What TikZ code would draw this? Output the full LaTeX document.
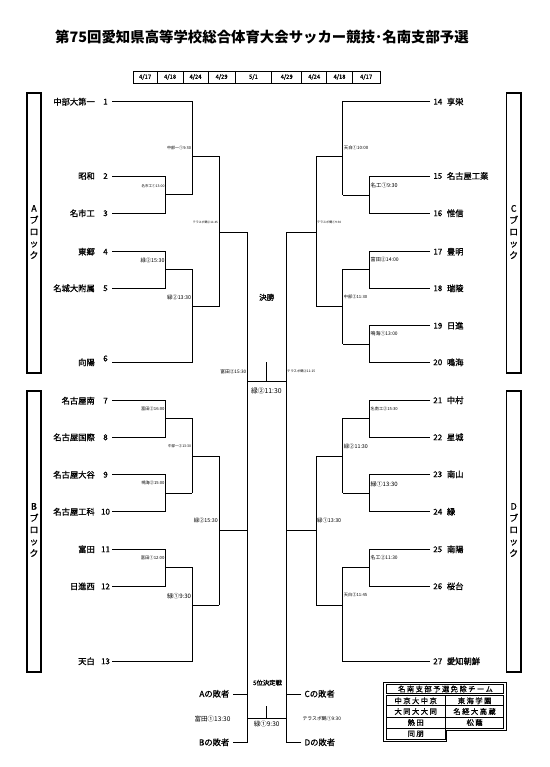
\documentclass[tikz,border=0pt]{standalone}
\usepackage{fontspec}
\setmainfont{Noto Sans CJK JP}
\newfontfamily\cjkspaced[LetterSpace=20,FakeBold=1]{Noto Sans CJK JP}
\newfontfamily\cjkdark[FakeBold=1]{Noto Sans CJK JP}
\usepackage{graphicx}
\newcommand\fitlab[2]{\resizebox{#1pt}{!}{\fontsize{5}{5}\selectfont #2}}
\begin{document}
\begin{tikzpicture}[x=1pt,y=-1pt,
  br/.style={line width=0.9pt},
  tname/.style={inner sep=0pt,font=\cjkdark\fontsize{8.3}{9}\selectfont},
  tnum/.style={inner sep=0pt,font=\cjkdark\fontsize{8}{9}\selectfont},
  labL/.style={inner sep=0pt,anchor=east},
  labR/.style={inner sep=0pt,anchor=west},
  blk/.style={inner sep=0pt,align=center,font=\cjkdark\fontsize{9}{11.7}\selectfont},
  datec/.style={inner sep=0pt,font=\cjkdark\fontsize{5.8}{6}\selectfont},
  cell/.style={inner sep=0pt,font=\cjkspaced\fontsize{7.3}{8}\selectfont}]
\useasboundingbox (0,0) rectangle (549,767);

% title
\node[inner sep=0pt,font=\fontsize{14.4}{15}\selectfont\bfseries] (title) at (262,37.5) {第75回愛知県高等学校総合体育大会サッカー競技･名南支部予選};

% date row
\draw[line width=0.9pt] (133,71) rectangle (380,83);
\foreach \xx in {157.3,183,208,235.3,271.7,301.7,326.7,352.3}
  \draw[line width=0.5pt] (\xx,71) -- (\xx,83);
\node[datec] (d1) at (145.1,77) {4/17};
\node[datec] (d2) at (170.1,77) {4/18};
\node[datec] (d3) at (195.5,77) {4/24};
\node[datec] (d4) at (221.6,77) {4/29};
\node[datec] (d5) at (253.5,77) {5/1};
\node[datec] (d6) at (286.7,77) {4/29};
\node[datec] (d7) at (314.2,77) {4/24};
\node[datec] (d8) at (339.5,77) {4/18};
\node[datec] (d9) at (366.1,77) {4/17};

% block boxes
\draw[line width=1.1pt] (27,93) rectangle (41,373);
\draw[line width=1.1pt] (27,391) rectangle (41,672);
\draw[line width=1.1pt] (506.5,93) rectangle (521,373);
\draw[line width=1.1pt] (506.5,391) rectangle (521,672);
\node[blk] (bA) at (34,232) {A\\ブ\\ロ\\ッ\\ク};
\node[blk] (bB) at (34,530) {B\\ブ\\ロ\\ッ\\ク};
\node[blk] (bC) at (513.7,232) {C\\ブ\\ロ\\ッ\\ク};
\node[blk] (bD) at (513.7,530) {D\\ブ\\ロ\\ッ\\ク};

% left team names
\foreach \nm/\num/\yy in {中部大第一/1/101.7, 昭和/2/176, 名市工/3/213.3, 東郷/4/251.7, 名城大附属/5/288.3,
   向陽/6/362.3, 名古屋南/7/400.7, 名古屋国際/8/437.3, 名古屋大谷/9/474.7, 名古屋工科/10/511.7,
   富田/11/549.3, 日進西/12/586.3, 天白/13/661.3}{
  \node[tname,anchor=east] (n\num) at (95,\yy) {\nm};
  \coordinate (t\num) at (112,\yy);
}
\foreach \num/\yy in {1/101.7,2/176,3/213.3,4/251.7,5/288.3,6/358.5,7/400.7,8/437.3,9/474.7,10/511.7,11/549.3,12/586.3,13/661.3}
  \node[tnum] (k\num) at (105.5,\yy) {\num};

% right team names
\foreach \nm/\num/\yy in {享栄/14/101.7, 名古屋工業/15/176, 惟信/16/213.3, 豊明/17/251.7, 瑞陵/18/288.3,
   日進/19/325.7, 鳴海/20/362.3, 中村/21/400.3, 星城/22/437.3, 南山/23/474.3, 緑/24/511.7,
   南陽/25/549.3, 桜台/26/586.3, 愛知朝鮮/27/661.3}{
  \node[tname,anchor=west] (n\num) at (446.7,\yy) {\nm};
  \node[tnum] (k\num) at (437.8,\yy) {\num};
  \coordinate (t\num) at (430,\yy);
}

% ---------- left bracket A
\draw[br] (t1) -- (192.3,101.7) -- (192.3,194.7);
\draw[br] (t2) -- (165.7,176) -- (165.7,213.3) -- (t3);
\draw[br] (165.7,194.7) -- (192.3,194.7);
\draw[br] (192.3,156.7) -- (219,156.7) -- (219,306.7);
\draw[br] (t4) -- (165.7,251.7) -- (165.7,288.3) -- (t5);
\draw[br] (165.7,269.3) -- (192.3,269.3) -- (192.3,362.3) -- (t6);
\draw[br] (192.3,306.7) -- (219,306.7);
\draw[br] (219,232.7) -- (247.7,232.7);
% ---------- left bracket B
\draw[br] (t7) -- (165.7,400.7) -- (165.7,437.3) -- (t8);
\draw[br] (165.7,418.3) -- (192.3,418.3) -- (192.3,493.3);
\draw[br] (t9) -- (165.7,474.7) -- (165.7,511.7) -- (t10);
\draw[br] (165.7,493.3) -- (192.3,493.3);
\draw[br] (192.3,456.7) -- (219,456.7) -- (219,605);
\draw[br] (t11) -- (165.7,549.3) -- (165.7,586.3) -- (t12);
\draw[br] (165.7,567.3) -- (192.3,567.3) -- (192.3,661.3) -- (t13);
\draw[br] (192.3,605) -- (219,605);
\draw[br] (219,530) -- (247.7,530);
% ---------- right bracket C
\draw[br] (t14) -- (342.7,101.7) -- (342.7,195);
\draw[br] (t15) -- (369.3,176) -- (369.3,213.3) -- (t16);
\draw[br] (369.3,195) -- (342.7,195);
\draw[br] (342.7,156.7) -- (316,156.7) -- (316,306.7);
\draw[br] (t17) -- (369.3,251.7) -- (369.3,288.3) -- (t18);
\draw[br] (369.3,269.3) -- (342.7,269.3) -- (342.7,344.3);
\draw[br] (t19) -- (369.3,325.7) -- (369.3,362.3) -- (t20);
\draw[br] (369.3,344.3) -- (342.7,344.3);
\draw[br] (342.7,306.7) -- (316,306.7);
\draw[br] (316,232.7) -- (286,232.7);
% ---------- right bracket D
\draw[br] (t21) -- (369.3,400.3) -- (369.3,437.3) -- (t22);
\draw[br] (369.3,418.3) -- (342.7,418.3) -- (342.7,493.3);
\draw[br] (t23) -- (369.3,474.3) -- (369.3,511.7) -- (t24);
\draw[br] (369.3,493.3) -- (342.7,493.3);
\draw[br] (342.7,456) -- (316,456) -- (316,605);
\draw[br] (t25) -- (369.3,549.3) -- (369.3,586.3) -- (t26);
\draw[br] (369.3,567.3) -- (342.7,567.3) -- (342.7,661.3) -- (t27);
\draw[br] (342.7,605) -- (316,605);
\draw[br] (316,530.7) -- (286,530.7);

% ---------- centre: final and 5th place
\coordinate (fl) at (247.7,232.7);
\coordinate (fr) at (286,232.7);
\draw[br] (fl) -- (247.7,742.7);
\draw[br] (fr) -- (286,742.7);
\draw[br] (247.7,381.7) -- (286,381.7);
\draw[br] (266.7,362.3) -- (266.7,381.7);
\draw[br] (247.7,718.3) -- (286,718.3);
\draw[br] (266.7,706) -- (266.7,718.3);
\node[inner sep=0pt,font=\cjkdark\fontsize{7.5}{8}\selectfont] (final) at (266.7,297.3) {決勝};
\node[inner sep=0pt,font=\fontsize{6.8}{7}\selectfont] (finaltime) at (266.3,390.7) {緑②11:30};
\node[inner sep=0pt,font=\cjkdark\fontsize{6.3}{7}\selectfont] (fifth) at (267.5,682.7) {5位決定戦};
\node[inner sep=0pt,font=\fontsize{6.5}{7}\selectfont] (fifthtime) at (266.7,724.3) {緑①9:30};
\node[inner sep=0pt,anchor=east,font=\cjkdark\fontsize{8.3}{9}\selectfont] (lA) at (229.5,693.8) {Aの敗者};
\node[inner sep=0pt,anchor=east,font=\cjkdark\fontsize{8.3}{9}\selectfont] (lB) at (229.5,742.3) {Bの敗者};
\node[inner sep=0pt,anchor=west,font=\cjkdark\fontsize{8.3}{9}\selectfont] (lC) at (304.3,693.8) {Cの敗者};
\node[inner sep=0pt,anchor=west,font=\cjkdark\fontsize{8.3}{9}\selectfont] (lD) at (304.3,742.3) {Dの敗者};
\draw[br] (lA.east) ++(3.8,0.5) -- (247.7,694.3);
\draw[br] (lB.east) ++(3.8,0.4) -- (247.7,742.7);
\draw[br] (lC.west) ++(-3,0.5) -- (286,694.3);
\draw[br] (lD.west) ++(-3,0.4) -- (286,742.7);
\node[inner sep=0pt] (p1) at (212.5,719) {\fitlab{36}{富田①13:30}};
\node[inner sep=0pt] (p2) at (321.8,718.5) {\fitlab{38.5}{テラスポ鶴①9:30}};

% ---------- match labels, left
\node[labL] (a1) at (191.3,148.3) {\fitlab{24}{中部一①9:30}};
\node[labL] (a2) at (164.7,185.7) {\fitlab{23}{名市工①13:00}};
\node[labL] (a3) at (218,222.5) {\fitlab{25}{テラスポ鶴②11:45}};
\node[labL] (a4) at (164.7,260) {\fitlab{24}{緑②15:30}};
\node[labL] (a5) at (191.3,297.3) {\fitlab{24}{緑②13:30}};
\node[labL] (s1) at (246.5,371.7) {\fitlab{26}{富田②15:30}};
\node[labL] (b1) at (164.7,409.3) {\fitlab{23.3}{富田②16:00}};
\node[labL] (b2) at (191.3,446) {\fitlab{23}{中部一②13:30}};
\node[labL] (b3) at (164.7,483.3) {\fitlab{23}{鳴海②15:00}};
\node[labL] (b4) at (218,520.7) {\fitlab{24}{緑②15:30}};
\node[labL] (b5) at (164.7,558.3) {\fitlab{23.6}{富田①12:00}};
\node[labL] (b6) at (191.3,595.7) {\fitlab{24}{緑①9:30}};
% ---------- match labels, right
\node[labR] (c1) at (343.7,148.3) {\fitlab{24.3}{天白①10:00}};
\node[labR] (c2) at (370.5,185) {\fitlab{27}{名工①9:30}};
\node[labR] (c3) at (317,222.7) {\fitlab{24}{テラスポ鶴①9:30}};
\node[labR] (c4) at (370.5,260) {\fitlab{28}{富田②14:00}};
\node[labR] (c5) at (343.7,297.3) {\fitlab{23.3}{中部②11:30}};
\node[labR] (c6) at (370.5,334) {\fitlab{27}{鳴海①13:00}};
\node[labR] (s2) at (287,371.7) {\fitlab{28}{テラスポ鶴②11:15}};
\node[labR] (e1) at (370.5,409.3) {\fitlab{27}{名南工②15:30}};
\node[labR] (e2) at (343.7,446) {\fitlab{24}{緑②11:30}};
\node[labR] (e3) at (370.5,484) {\fitlab{27}{緑①13:30}};
\node[labR] (e4) at (317,520.7) {\fitlab{24}{緑①13:30}};
\node[labR] (e5) at (370.5,557.7) {\fitlab{27}{名工②11:30}};
\node[labR] (e6) at (343.7,595) {\fitlab{23.3}{天白②11:45}};

% ---------- exempt table
\draw[line width=1pt] (383,682) -- (506,682) -- (506,730.3) -- (446.7,730.3) -- (446.7,741) -- (383,741) -- cycle;
\draw[line width=0.6pt] (386,684.5) rectangle (503.5,693.3);
\draw[line width=0.6pt] (386,695.7) rectangle (503.5,728.3);
\draw[line width=0.6pt] (386,705.7) -- (503.5,705.7);
\draw[line width=0.6pt] (386,716.8) -- (503.5,716.8);
\draw[line width=0.6pt] (445.3,695.7) -- (445.3,728.3);
\draw[line width=0.6pt] (386,728.3) rectangle (445.3,739);
\node[cell] (h0) at (445.5,689) {名南支部予選免除チーム};
\node[cell] (r11) at (415.7,700.8) {中京大中京};
\node[cell] (r12) at (474.6,700.8) {東海学園};
\node[cell] (r21) at (415.7,711.5) {大同大大同};
\node[cell] (r22) at (474.6,711.5) {名経大高蔵};
\node[cell] (r31) at (415.7,722.5) {熱田};
\node[cell] (r32) at (474.6,722.5) {松蔭};
\node[cell] (r41) at (415.7,733.8) {同朋};
\end{tikzpicture}
\end{document}
